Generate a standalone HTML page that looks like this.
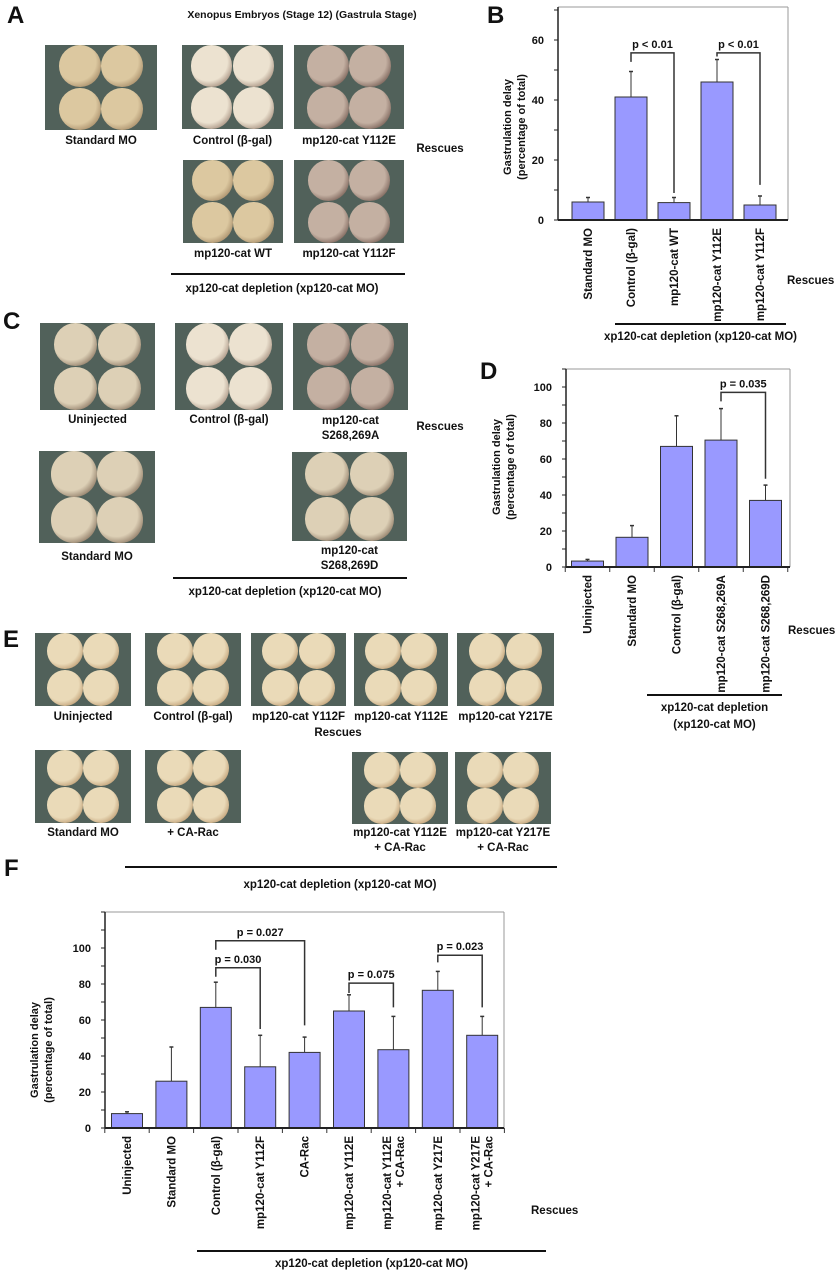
<!DOCTYPE html>
<html><head><meta charset="utf-8">
<style>
body{margin:0;width:838px;height:1280px;background:#fff;position:relative;overflow:hidden;font-family:"Liberation Sans",Arial,sans-serif;font-weight:bold;color:#111}
.t{position:absolute;font-size:11.5px;white-space:nowrap;text-align:center;transform:translateX(-50%);line-height:15px}
.L{position:absolute;font-size:24px;font-weight:bold;line-height:24px}
.ph{position:absolute;background:#51615a;overflow:hidden}
.hl{position:absolute;border-top:2px solid #111}
svg{position:absolute;left:0;top:0}
</style></head><body>
<div class="L" style="left:7px;top:4px">A</div>
<div class="L" style="left:487px;top:4px">B</div>
<div class="L" style="left:3px;top:310px">C</div>
<div class="L" style="left:480px;top:360px">D</div>
<div class="L" style="left:3px;top:628px">E</div>
<div class="L" style="left:4px;top:857px">F</div>

<div class="t" style="left:302px;top:8px;font-size:10.5px">Xenopus Embryos (Stage 12) (Gastrula Stage)</div>

<div id="photos"></div>

<svg id="chart" width="838" height="1280"></svg>

<script>
// ---------- photo panels ----------
const photoBoxes = [
 [45,45,112,85,'a',['Standard MO'],134],
 [182,45,101,84,'w',['Control (\u03b2-gal)'],134],
 [294,45,110,84,'d',['mp120-cat  Y112E'],134],
 [183,160,100,83,'a',['mp120-cat WT'],247],
 [294,160,110,83,'d',['mp120-cat  Y112F'],247],
 [40,323,115,87,'c',['Uninjected'],413],
 [175,323,108,87,'w',['Control (\u03b2-gal)'],413],
 [293,323,115,87,'d',['mp120-cat','S268,269A'],414],
 [39,451,116,92,'c',['Standard MO'],550],
 [292,452,115,89,'c',['mp120-cat','S268,269D'],544],
 [35,633,96,73,'e',['Uninjected'],710],
 [145,633,96,73,'e',['Control (\u03b2-gal)'],710],
 [251,633,95,73,'e',['mp120-cat  Y112F'],710],
 [354,633,94,73,'e',['mp120-cat  Y112E'],710],
 [457,633,97,73,'e',['mp120-cat  Y217E'],710],
 [35,750,96,73,'e',['Standard MO'],826],
 [145,750,96,73,'e',['+ CA-Rac'],826],
 [352,752,96,72,'e',['mp120-cat  Y112E','+ CA-Rac'],826],
 [455,752,96,72,'e',['mp120-cat  Y217E','+ CA-Rac'],826]
];
const tones={a:['#dcc8a0','#7a5a3a'],w:['#ece2d0','#6a4a3a'],d:['#c4b0a2','#3a1e18'],c:['#ddd0b6','#4a3020'],e:['#eadab8','#9a6a3a']};
const host=document.getElementById('photos');
photoBoxes.forEach((p,i)=>{
  const [x,y,w,h,t,lab,ly]=p;
  const d=document.createElement('div');
  d.className='ph';
  
  
  d.style.cssText=`left:${x}px;top:${y}px;width:${w}px;height:${h}px;background:#52625b repeating-linear-gradient(90deg,transparent 0 18px,rgba(220,230,230,.45) 18px 21px),repeating-linear-gradient(0deg,transparent 0 18px,rgba(220,230,230,.45) 18px 21px);`;
  const r=h*0.245;
  const cx=w/2, cy=h/2;
  [[-1,-1],[1,-1],[-1,1],[1,1]].forEach(o=>{
    const c=document.createElement('div');
    c.style.cssText=`position:absolute;left:${cx+o[0]*r*1.02-r}px;top:${cy+o[1]*r*1.02-r}px;width:${2*r}px;height:${2*r}px;border-radius:50%;background:radial-gradient(circle at 42% 40%,${tones[t][0]} 55%,${tones[t][1]} 100%);`;
    d.appendChild(c);
  });
  host.appendChild(d);
  lab.forEach((s,j)=>{
    const l=document.createElement('div');
    l.className='t';
    
    
    l.style.left=(x+w/2)+'px'; l.style.top=(ly+j*15)+'px';
    l.textContent=s; host.appendChild(l);
  });
});
function addText(s,x,y,name){const l=document.createElement('div');l.className='t';
  
  
  l.style.left=x+'px';l.style.top=y+'px';l.textContent=s;host.appendChild(l);}
function addLine(x1,x2,y,name){const l=document.createElement('div');l.className='hl';
  
  
  l.style.cssText+=`left:${x1}px;width:${x2-x1}px;top:${y}px;`;host.appendChild(l);}
addText('Rescues',440,142,'rescues-label-a');
addLine(171,405,273,'depletion-line-a');
addText('xp120-cat depletion   (xp120-cat MO)',282,282,'depletion-label-a');
addText('Rescues',440,420,'rescues-label-c');
addLine(173,407,577,'depletion-line-c');
addText('xp120-cat depletion   (xp120-cat MO)',285,585,'depletion-label-c');
addText('Rescues',338,726,'rescues-label-e');
addLine(125,557,866,'depletion-line-e');
addText('xp120-cat depletion   (xp120-cat MO)',340,878,'depletion-label-e');

// ---------- chart data ----------
const catsB=[['Standard MO'],['Control  (\u03b2-gal)'],['mp120-cat  WT'],['mp120-cat  Y112E'],['mp120-cat  Y112F']];
const valsB=[6,41,5.8,46,5];
const errB=[7.5,49.5,7.5,53.5,8];
const ticksB=[0,20,40,60];
const catsD=[['Uninjected'],['Standard MO'],['Control (\u03b2-gal)'],['mp120-cat  S268,269A'],['mp120-cat  S268,269D']];
const valsD=[3.3,16.5,67,70.5,37];
const errD=[4.2,23,84,88,45.5];
const ticksD=[0,20,40,60,80,100];
const catsF=[['Uninjected'],['Standard MO'],['Control (\u03b2-gal)'],['mp120-cat  Y112F'],['CA-Rac'],['mp120-cat  Y112E'],['mp120-cat  Y112E','+ CA-Rac'],['mp120-cat  Y217E'],['mp120-cat  Y217E','+ CA-Rac']];
const valsF=[8,26,67,34,42,65,43.5,76.5,51.5];
const errF=[9,45,81,51.5,50.5,74,62,87,62];
const ticksF=[0,20,40,60,80,100];
// brackets: [fromIdx,toIdx,topVal,leftVal,rightVal,label]
const brB=[[1,2,55.7,52.7,9,'p < 0.01'],[3,4,55.7,54.5,11.7,'p < 0.01']];
const brD=[[3,4,97,92,49,'p = 0.035']];
const brF=[[2,4,104,99,57,'p = 0.027'],[2,3,89,84,55,'p = 0.030'],[5,6,80.5,75,67,'p = 0.075'],[7,8,96,92,67,'p = 0.023']];

const svg=document.getElementById('chart');
const NS='http://www.w3.org/2000/svg';
function el(tag,attrs,parent,name){const e=document.createElementNS(NS,tag);for(const k in attrs)e.setAttribute(k,attrs[k]);
  
  
  (parent||svg).appendChild(e);return e;}

function drawChart(cfg,cats,vals,errs,ticks,brs){
  const g=el('g',{},svg,cfg.name);
  const y=v=>cfg.y0-v*cfg.k;
  const xc=i=>cfg.c0+i*cfg.step;
  const top=y(cfg.max);
  el('line',{x1:cfg.ax,y1:top,x2:cfg.right,y2:top,stroke:'#999','stroke-width':1},g,'plot-frame-top');
  el('line',{x1:cfg.right,y1:top,x2:cfg.right,y2:cfg.y0,stroke:'#999','stroke-width':1},g,'plot-frame-right');
  vals.forEach((v,i)=>{
    el('rect',{x:xc(i)-cfg.bw/2,y:y(v),width:cfg.bw,height:cfg.y0-y(v),fill:'#9999ff',stroke:'#333','stroke-width':1},g,'bar-'+i);
    el('line',{x1:xc(i),y1:y(v),x2:xc(i),y2:y(errs[i]),stroke:'#333','stroke-width':1},g,'error-bar-'+i);
    el('line',{x1:xc(i)-2,y1:y(errs[i]),x2:xc(i)+2,y2:y(errs[i]),stroke:'#333','stroke-width':1.5},g,'error-cap-'+i);
    cats[i].forEach((s,j)=>{
      const tx=xc(i)+(j-(cats[i].length-1)/2)*13+4;
      const t=el('text',{transform:`translate(${tx},${cfg.y0+8}) rotate(-90)`,'text-anchor':'end','font-size':'11.5','font-weight':'bold',fill:'#111'},g,'x-tick-label');
      t.textContent=s;
    });
  });
  if(cfg.xticks){for(let i=0;i<=cats.length;i++){const xx=xc(i)-cfg.step/2;
    el('line',{x1:xx,y1:cfg.y0,x2:xx,y2:cfg.y0+5,stroke:'#333'},g,'x-tick');}}
  el('line',{x1:cfg.ax,y1:top,x2:cfg.ax,y2:cfg.y0,stroke:'#222','stroke-width':1.5},g,'y-axis');
  el('line',{x1:cfg.ax,y1:cfg.y0,x2:cfg.right,y2:cfg.y0,stroke:'#222','stroke-width':2},g,'x-axis');
  for(let v=0;v<=cfg.max;v+=10){el('line',{x1:cfg.ax-4,y1:y(v),x2:cfg.ax,y2:y(v),stroke:'#222'},g,'y-tick');}
  ticks.forEach(v=>{const t=el('text',{x:cfg.ax-14,y:y(v)+4,'text-anchor':'end','font-size':'11','font-weight':'bold',fill:'#111'},g,'y-tick-label');t.textContent=v;});
  const t1=el('text',{transform:`translate(${cfg.tx},${cfg.ty}) rotate(-90)`,'text-anchor':'middle','font-size':'11','font-weight':'bold',fill:'#111'},g,'y-axis-title');
  t1.textContent='Gastrulation delay';
  const t2=el('text',{transform:`translate(${cfg.tx+14},${cfg.ty}) rotate(-90)`,'text-anchor':'middle','font-size':'11','font-weight':'bold',fill:'#111'},g,'y-axis-title-2');
  t2.textContent='(percentage of total)';
  brs.forEach(b=>{
    const x1=xc(b[0]),x2=xc(b[1]);
    el('polyline',{points:`${x1},${y(b[3])} ${x1},${y(b[2])} ${x2},${y(b[2])} ${x2},${y(b[4])}`,fill:'none',stroke:'#333','stroke-width':1.5},g,'significance-bracket');
    const t=el('text',{x:(x1+x2)/2,y:y(b[2])-5,'text-anchor':'middle','font-size':'11','font-weight':'bold',fill:'#111'},g,'p-value-label');
    t.textContent=b[5];
  });
  const r=el('text',{x:cfg.rx,y:cfg.ry,'font-size':'11.5','font-weight':'bold',fill:'#111'},g,'rescues-label');r.textContent='Rescues';
  el('line',{x1:cfg.l1,y1:cfg.ly,x2:cfg.l2,y2:cfg.ly,stroke:'#111','stroke-width':2},g,'depletion-line');
  cfg.dep.forEach((s,j)=>{const t=el('text',{x:(cfg.l1+cfg.l2)/2,y:cfg.ly+16+j*17,'text-anchor':'middle','font-size':'11.5','font-weight':'bold',fill:'#111'},g,'depletion-label');t.textContent=s;});
}
drawChart({name:'chart-b',ax:558,right:788,y0:220,k:3,max:71,c0:588,step:43,bw:32,tx:511,ty:127,rx:787,ry:284,l1:615,l2:786,ly:324,dep:['xp120-cat depletion  (xp120-cat MO)'],xticks:false},catsB,valsB,errB,ticksB,brB);
drawChart({name:'chart-d',ax:566,right:790,y0:567,k:1.8,max:110,c0:587.5,step:44.5,bw:32,tx:500,ty:467,rx:788,ry:634,l1:647,l2:782,ly:695,dep:['xp120-cat depletion','(xp120-cat MO)'],xticks:true},catsD,valsD,errD,ticksD,brD);
drawChart({name:'chart-f',ax:105,right:504,y0:1128,k:1.8,max:120,c0:127,step:44.4,bw:31,tx:38,ty:1050,rx:531,ry:1214,l1:197,l2:546,ly:1251,dep:['xp120-cat depletion   (xp120-cat MO)'],xticks:true},catsF,valsF,errF,ticksF,brF);
</script>
</body></html>
